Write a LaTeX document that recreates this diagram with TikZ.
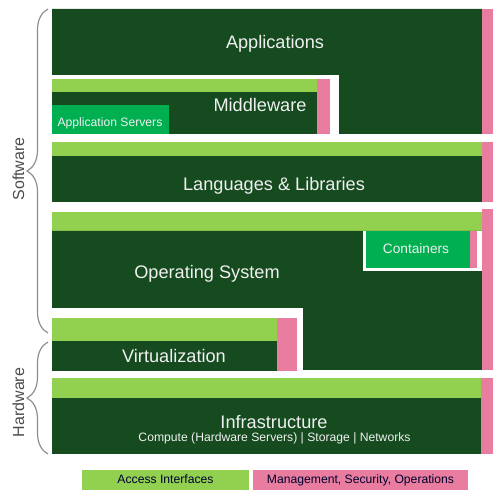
\documentclass[tikz,border=0pt]{standalone}
\usepackage{fontspec}
\setmainfont{Liberation Sans}
\usetikzlibrary{decorations.pathreplacing}
\definecolor{layergreen}{HTML}{164B20}
\definecolor{accessgreen}{HTML}{92D050}
\definecolor{mgmtpink}{HTML}{E87DA0}
\definecolor{boxgreen}{HTML}{00B050}

\begin{document}
\begin{tikzpicture}[x=0.6pt, y=-0.6pt,
    layer/.style={fill=layergreen},
    access/.style={fill=accessgreen},
    mgmt/.style={fill=mgmtpink},
    title/.style={anchor=base, text=white!94!black, font=\fontsize{10.9}{13}\selectfont},
    small/.style={anchor=base, text=white!94!black, font=\fontsize{7.3}{9}\selectfont},
    legend/.style={anchor=base, text=black!82!blue, font=\fontsize{7.3}{9}\selectfont},
    side/.style={rotate=90, text=black!70, font=\fontsize{9.6}{11}\selectfont},
    bracket/.style={draw=black!45, line width=0.7pt, decorate, decoration={brace, amplitude=12.6pt}}]
    \useasboundingbox[fill=white] (0,0) rectangle (493,490);

    % applications, notched round the middleware
    \fill[layer] (52,9) -- (482,9) -- (482,134) -- (339,134) -- (339,75) -- (52,75) -- cycle;
    \fill[mgmt] (482,9) rectangle (493,134);
    \node[title] (apps) at (275,49) {Applications};

    % middleware
    \fill[access] (52,79) rectangle (317,92);
    \fill[layer] (52,92) rectangle (317,134);
    \fill[mgmt] (317,79) rectangle (330,134);
    \fill[boxgreen] (52,105) rectangle (169,134);
    \node[title] (mid) at (260,111.5) {Middleware};
    \node[small] (appsrv) at (110,127) {Application Servers};

    % languages & libraries
    \fill[access] (52,142) rectangle (482,156);
    \fill[layer] (52,156) rectangle (482,202);
    \fill[mgmt] (482,142) rectangle (493,202);
    \node[title] (lang) at (274,190.5) {Languages \& Libraries};

    % operating system, notched for virtualization
    \fill[access] (52,212) rectangle (482,231);
    \fill[layer] (52,231) -- (482,231) -- (482,370) -- (303,370) -- (303,308) -- (52,308) -- cycle;
    \fill[mgmt] (482,209) rectangle (493,370);
    \fill[white] (363,231) rectangle (482,271);
    \fill[boxgreen] (366,231) rectangle (470,268);
    \fill[mgmt] (470,231) rectangle (477,268);
    \node[small, font=\fontsize{8.2}{10}\selectfont] (cont) at (416,254) {Containers};
    \node[title] (os) at (207,279) {Operating System};

    % virtualization
    \fill[access] (52,318) rectangle (277,341);
    \fill[layer] (52,341) rectangle (277,371);
    \fill[mgmt] (277,318) rectangle (297,371);
    \node[title] (virt) at (174,362.5) {Virtualization};

    % infrastructure
    \fill[access] (52,378) rectangle (481,398);
    \fill[layer] (52,398) rectangle (481,454);
    \fill[mgmt] (481,378) rectangle (493,454);
    \node[title] (infra) at (274,429) {Infrastructure};
    \node[small] (infrasub) at (274.5,442) {Compute (Hardware Servers) | Storage | Networks};

    % braces
    \coordinate (swtop) at (48,9);
    \coordinate (swbot) at (48,333);
    \coordinate (hwtop) at (48,342);
    \coordinate (hwbot) at (48,454);
    \draw[bracket] (swbot) -- (swtop);
    \draw[bracket] (hwbot) -- (hwtop);
    \node[side] (sw) at (18.5,169) {Software};
    \node[side] (hw) at (18.5,402.5) {Hardware};

    % legend
    \fill[access] (82,470) rectangle (249,490);
    \fill[mgmt] (253,470) rectangle (468,490);
    \node[legend] (acc) at (165.5,484) {Access Interfaces};
    \node[legend] (mso) at (360.5,484) {Management, Security, Operations};
\end{tikzpicture}
\end{document}
